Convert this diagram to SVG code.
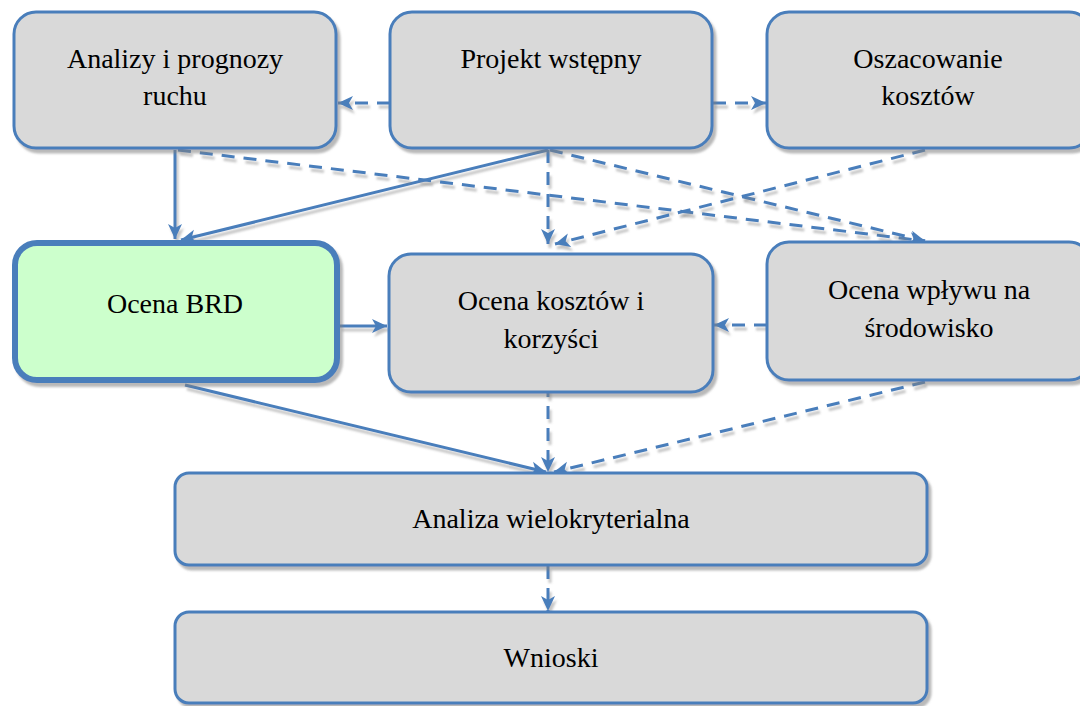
<svg xmlns="http://www.w3.org/2000/svg" width="1080" height="706" viewBox="0 0 1080 706">
<defs>
<style>
.box{fill:#D9D9D9;stroke:#4A7EBB;stroke-width:3;filter:url(#sh)}
.brd{fill:#CCFFCC;stroke:#4A7EBB;stroke-width:6;filter:url(#sh)}
.t{font-family:"Liberation Serif",Tinos,"Times New Roman","DejaVu Serif",serif;font-size:28px;fill:#000;text-anchor:middle}
.c{fill:none;stroke:#4A7EBB;stroke-width:3;filter:url(#lsh)}
.d{stroke-dasharray:13 9}
</style>
<filter id="sh" filterUnits="userSpaceOnUse" x="0" y="0" width="1080" height="706">
<feDropShadow dx="3" dy="4" stdDeviation="1" flood-color="#808080" flood-opacity="0.55"/>
</filter>
<filter id="lsh" filterUnits="userSpaceOnUse" x="0" y="0" width="1080" height="706">
<feDropShadow dx="2" dy="4" stdDeviation="0.8" flood-color="#808080" flood-opacity="0.45"/>
</filter>
<marker id="ah" markerUnits="userSpaceOnUse" markerWidth="16" markerHeight="16" viewBox="0 0 16 16" refX="15" refY="8" orient="auto">
<path d="M0,1 L15,8 L0,15 L4,8 Z" fill="#4A7EBB" stroke="none"/>
</marker>
</defs>
<rect width="1080" height="706" fill="#FFFFFF"/>

<g id="connectors">
<line class="c d" x1="390" y1="103" x2="338" y2="103" marker-end="url(#ah)"/>
<line class="c d" x1="713" y1="103" x2="766" y2="103" marker-end="url(#ah)"/>
<line class="c" x1="175" y1="150" x2="175" y2="239" marker-end="url(#ah)"/>
<line class="c" x1="548" y1="150" x2="181" y2="240" marker-end="url(#ah)"/>
<line class="c d" x1="178" y1="150" x2="925" y2="241" marker-end="url(#ah)"/>
<line class="c d" x1="550" y1="150" x2="925" y2="241" marker-end="url(#ah)"/>
<line class="c d" x1="548" y1="150" x2="548" y2="244" marker-end="url(#ah)"/>
<line class="c d" x1="925" y1="150" x2="555" y2="244" marker-end="url(#ah)"/>
<line class="c" x1="340" y1="326" x2="387" y2="326" marker-end="url(#ah)"/>
<line class="c d" x1="767" y1="325" x2="714" y2="325" marker-end="url(#ah)"/>
<line class="c" x1="185" y1="385" x2="546" y2="472" marker-end="url(#ah)"/>
<line class="c d" x1="548" y1="384" x2="548" y2="472" marker-end="url(#ah)"/>
<line class="c d" x1="925" y1="382" x2="554" y2="472" marker-end="url(#ah)"/>
<line class="c d" x1="548" y1="566" x2="548" y2="611" marker-end="url(#ah)"/>
</g>

<g id="analizy">
<rect class="box" x="14" y="12" width="322" height="136" rx="22"/>
<text class="t" x="175" y="68">Analizy i prognozy</text>
<text class="t" x="175" y="105">ruchu</text>
</g>
<g id="projekt">
<rect class="box" x="390" y="12" width="322" height="136" rx="22"/>
<text class="t" x="551" y="68">Projekt wstępny</text>
</g>
<g id="oszacowanie">
<rect class="box" x="767" y="12" width="324" height="136" rx="22"/>
<text class="t" x="928" y="68">Oszacowanie</text>
<text class="t" x="928" y="105">kosztów</text>
</g>
<g id="brd">
<rect class="brd" x="15" y="243" width="322" height="137" rx="22"/>
<text class="t" x="175" y="313">Ocena BRD</text>
</g>
<g id="kosztow">
<rect class="box" x="389" y="254" width="324" height="138" rx="22"/>
<text class="t" x="551" y="310">Ocena kosztów i</text>
<text class="t" x="551" y="348">korzyści</text>
</g>
<g id="wplyw">
<rect class="box" x="767" y="242" width="324" height="138" rx="22"/>
<text class="t" x="929" y="299">Ocena wpływu na</text>
<text class="t" x="929" y="337">środowisko</text>
</g>
<g id="wielokryterialna">
<rect class="box" x="175" y="473" width="752" height="92" rx="14"/>
<text class="t" x="551" y="528">Analiza wielokryterialna</text>
</g>
<g id="wnioski">
<rect class="box" x="175" y="612" width="752" height="91" rx="14"/>
<text class="t" x="551" y="667">Wnioski</text>
</g>
</svg>
